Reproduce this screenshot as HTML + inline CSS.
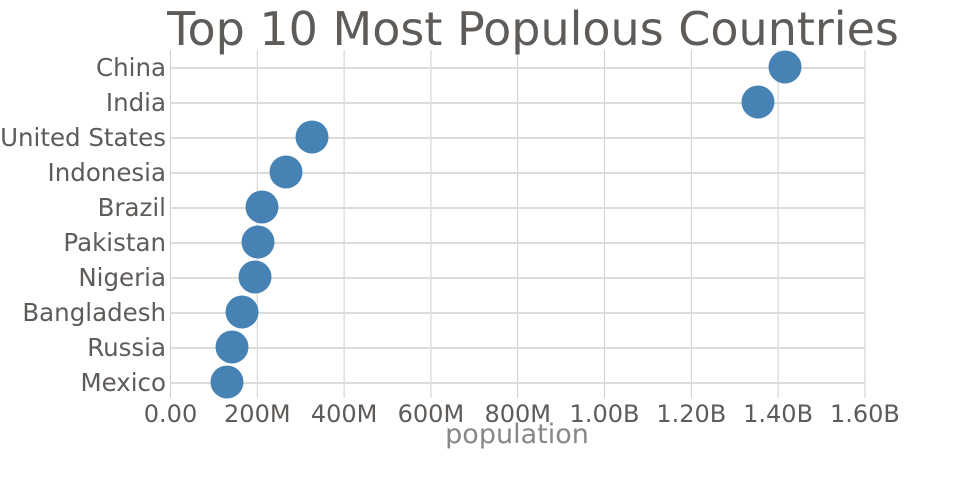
<!DOCTYPE html>
<html><head><style>body{margin:0;background:#fff}svg{display:block}text{font-family:"DejaVu Sans","Liberation Sans",sans-serif;fill:#5f5b58}</style></head><body>
<svg width="960" height="500" xmlns="http://www.w3.org/2000/svg">
<g stroke="#cfcfcd" stroke-width="1">
<line x1="170.5" y1="50" x2="170.5" y2="398"/><line x1="257.3" y1="50" x2="257.3" y2="398"/><line x1="344.1" y1="50" x2="344.1" y2="398"/><line x1="430.9" y1="50" x2="430.9" y2="398"/><line x1="517.7" y1="50" x2="517.7" y2="398"/><line x1="604.5" y1="50" x2="604.5" y2="398"/><line x1="691.3" y1="50" x2="691.3" y2="398"/><line x1="778.1" y1="50" x2="778.1" y2="398"/><line x1="864.9" y1="50" x2="864.9" y2="398"/>
</g>
<g stroke="#dcdcd8" stroke-width="2">
<line x1="170" y1="68" x2="865" y2="68"/><line x1="170" y1="103" x2="865" y2="103"/><line x1="170" y1="138" x2="865" y2="138"/><line x1="170" y1="173" x2="865" y2="173"/><line x1="170" y1="208" x2="865" y2="208"/><line x1="170" y1="243" x2="865" y2="243"/><line x1="170" y1="278" x2="865" y2="278"/><line x1="170" y1="313" x2="865" y2="313"/><line x1="170" y1="348" x2="865" y2="348"/><line x1="170" y1="383" x2="865" y2="383"/>
</g>
<g fill="#4682b4">
<circle cx="785" cy="67" r="16.5"/><circle cx="758" cy="102" r="16.5"/><circle cx="312" cy="137" r="16.5"/><circle cx="286" cy="172" r="16.5"/><circle cx="262" cy="207" r="16.5"/><circle cx="258" cy="242" r="16.5"/><circle cx="255" cy="277" r="16.5"/><circle cx="242" cy="312" r="16.5"/><circle cx="232" cy="347" r="16.5"/><circle cx="227" cy="382" r="16.5"/>
</g>
<g font-size="24.5" text-anchor="end">
<text x="166" y="76">China</text><text x="166" y="111">India</text><text x="166" y="146">United States</text><text x="166" y="181">Indonesia</text><text x="166" y="216">Brazil</text><text x="166" y="251">Pakistan</text><text x="166" y="286">Nigeria</text><text x="166" y="321">Bangladesh</text><text x="166" y="356">Russia</text><text x="166" y="391">Mexico</text>
</g>
<g font-size="24" text-anchor="middle">
<text x="170.5" y="422">0.00</text><text x="257.3" y="422">200M</text><text x="344.1" y="422">400M</text><text x="430.9" y="422">600M</text><text x="517.7" y="422">800M</text><text x="604.5" y="422">1.00B</text><text x="691.3" y="422">1.20B</text><text x="778.1" y="422">1.40B</text><text x="864.9" y="422">1.60B</text>
</g>
<text x="517" y="443" font-size="27" text-anchor="middle" style="fill:#8a8785">population</text>
<text x="533" y="45" font-size="46" text-anchor="middle">Top 10 Most Populous Countries</text>
</svg>
</body></html>
